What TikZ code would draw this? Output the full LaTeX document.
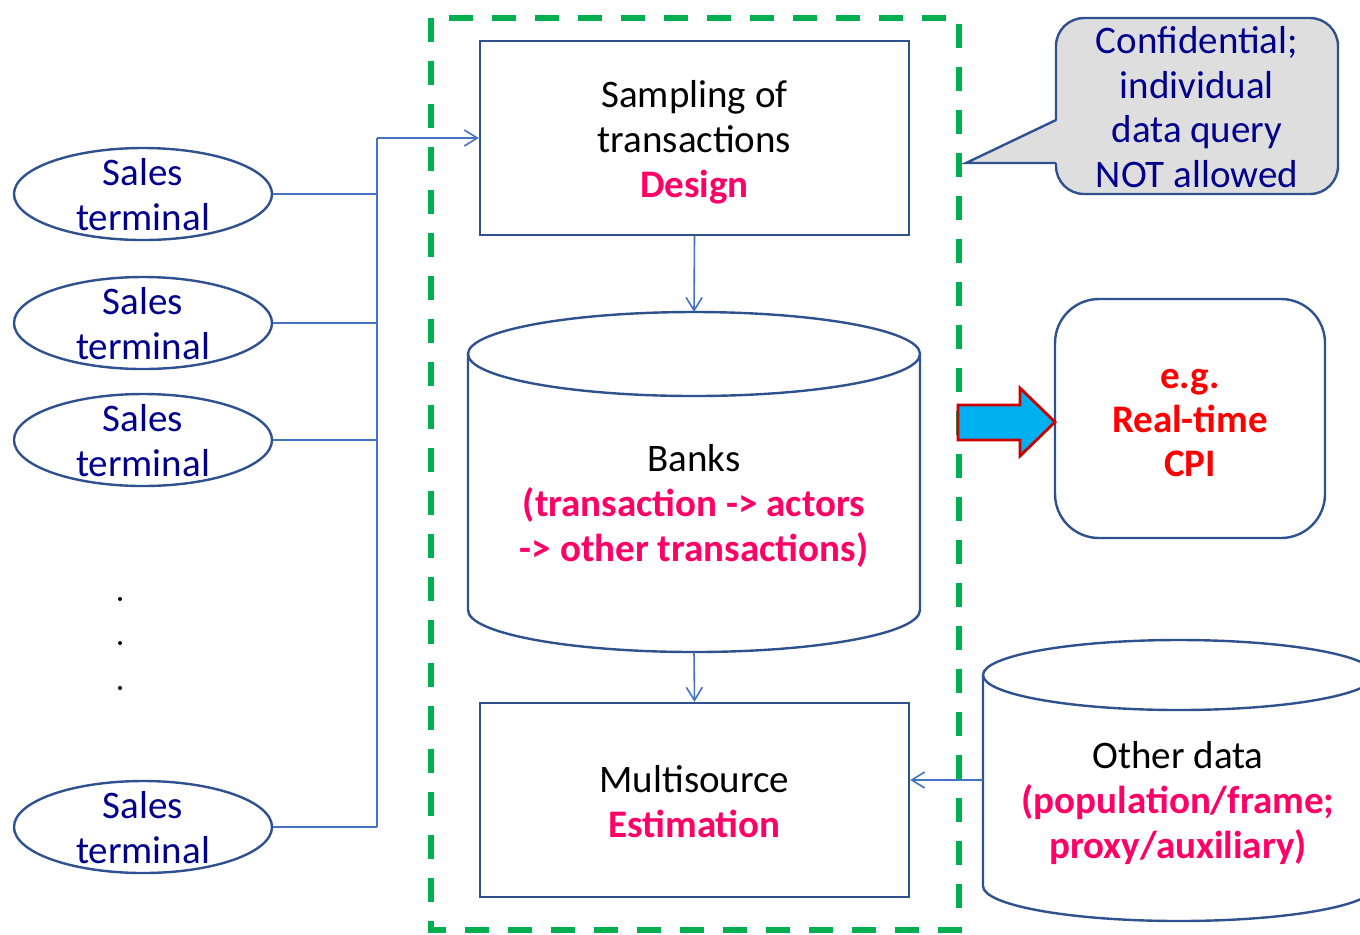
\documentclass[tikz,border=0pt]{standalone}
\usepackage{fontspec}
\setmainfont{Carlito}
\usetikzlibrary{shapes.geometric,arrows.meta}
\definecolor{boxblue}{RGB}{47,82,143}
\definecolor{linkblue}{RGB}{68,114,196}
\definecolor{navy}{RGB}{0,0,140}
\definecolor{hotpink}{RGB}{255,0,102}
\definecolor{framegreen}{RGB}{0,176,80}
\definecolor{callgray}{RGB}{222,222,222}
\definecolor{sky}{RGB}{0,176,240}
\definecolor{arrowred}{RGB}{204,0,0}
\begin{document}
\begin{tikzpicture}[x=0.5pt,y=-0.5pt,
  every node/.style={font=\fontsize{19.5pt}{22.5pt}\selectfont},
  box/.style={draw=boxblue, line width=1.2pt, minimum width=214.5pt,
    minimum height=97pt, inner sep=0pt},
  cyl/.style={draw=boxblue, line width=1.2pt},
  term/.style={ellipse, draw=boxblue, line width=1.2pt, minimum width=129pt,
    minimum height=46pt, inner sep=0pt},
  termtext/.style={text=navy, align=center},
  link/.style={draw=linkblue, line width=0.8pt},
  tip/.style={-{Straight Barb[length=6.5pt,width=8pt]}}]
\useasboundingbox (0,0) rectangle (1360,934);
\clip (0,0) rectangle (1360,934);

% processing area
\draw[framegreen, line width=2.8pt, dash pattern=on 12pt off 9.5pt]
  (431,18) rectangle (959,930);

% sales terminals
\node[term] (t1) at (143,194) {};
\node[termtext] (t1txt) at (143,195) {Sales\\terminal};
\node[term] (t2) at (143,323) {};
\node[termtext] (t2txt) at (143,324) {Sales\\terminal};
\node[term] (t3) at (143,440) {};
\node[termtext] (t3txt) at (143,441) {Sales\\terminal};
\node[term] (t4) at (143,827) {};
\node[termtext] (t4txt) at (143,828) {Sales\\terminal};
\foreach \y in {599,643,688} \fill (120,\y) circle[radius=1pt];

% sampling box
\node[box] (sample) at (694.5,138) {};
\node[align=center] (sampletxt) at (694.5,142) {Sampling of\\transactions\\%
  \textcolor{hotpink}{\bfseries Design}};

% banks cylinder
\draw[cyl, fill=white] (468,354) -- (468,610)
  arc[start angle=180, end angle=360, x radius=113pt, y radius=21pt] -- (920,354);
\draw[cyl] (694,354) ellipse[x radius=113pt, y radius=21pt];
\coordinate (bankstop) at (694,312);
\coordinate (banksbot) at (694,652);
\node[align=center] (banks) at (694,506) {Banks\\%
  \textcolor{hotpink}{\bfseries (transaction -> actors}\\%
  \textcolor{hotpink}{\bfseries -> other transactions)}};

% estimation box
\node[box] (est) at (694.5,800) {};
\node[align=center] (esttxt) at (694.5,802) {Multisource\\%
  \textcolor{hotpink}{\bfseries Estimation}};

% other data cylinder
\draw[cyl, fill=white] (983,675) -- (983,886)
  arc[start angle=180, end angle=360, x radius=98pt, y radius=17.5pt] -- (1375,675);
\draw[cyl] (1179,675) ellipse[x radius=98pt, y radius=17.5pt];
\coordinate (otherleft) at (983,780);
\node[align=center] (other) at (1178,803) {Other data\\%
  \textcolor{hotpink}{\bfseries (population/frame;}\\%
  \textcolor{hotpink}{\bfseries proxy/auxiliary)}};

% confidentiality callout
\node[fill=callgray, draw=boxblue, line width=1.2pt, rounded corners=14pt,
  minimum width=141pt, minimum height=88pt, inner sep=0pt] (conf) at (1197,106) {};
\fill[callgray] (1058,120) -- (966,163) -- (1058,163) -- cycle;
\draw[boxblue, line width=1.2pt, line join=miter] (1056,120) -- (966,163) -- (1056,163);
\node[text=navy, align=center, font=\fontsize{19.5pt}{22.2pt}\selectfont]
  (conftext) at (1197,107) {Confidential;\\individual\\data query\\NOT allowed};

% real-time CPI
\node[draw=boxblue, line width=1.2pt, rounded corners=22pt, minimum width=135pt,
  minimum height=119.5pt, inner sep=0pt] (cpi) at (1190,418.5) {};
\node[align=center, text=red, font=\fontsize{19.5pt}{22pt}\selectfont\bfseries]
  (cpitxt) at (1190,423.5) {e.g.\\Real-time\\CPI};
\draw[fill=sky, draw=arrowred, line width=1.4pt, line join=miter]
  (958,405) -- (1020,405) -- (1020,388) -- (1055,422) -- (1020,456)
  -- (1020,440) -- (958,440) -- cycle;

% connectors
\coordinate (bus) at (377,138);
\foreach \t in {t1,t2,t3,t4} \draw[link] (\t.east) -- (\t.east -| bus);
\draw[link] (bus) -- (bus |- t4.east);
\draw[link, tip] (bus) -- (sample.west);
\draw[link, tip] (sample.south) -- (bankstop);
\draw[link, tip] (banksbot) -- (est.north);
\draw[link, tip] (otherleft) -- (otherleft -| est.east);
\end{tikzpicture}
\end{document}
